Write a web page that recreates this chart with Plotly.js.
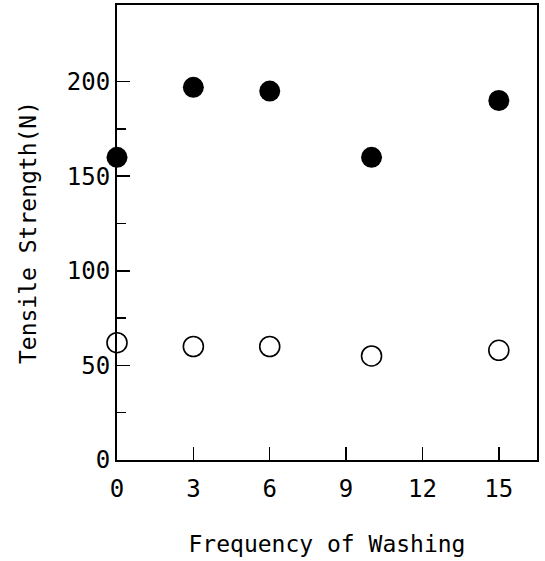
<!DOCTYPE html>
<html>
<head>
<meta charset="utf-8">
<script src="https://cdn.plot.ly/plotly-3.0.1.min.js"></script>
<style>html,body{margin:0;padding:0;background:#fff;}</style>
</head>
<body>
<div id="chart" style="width:545px;height:561px;"></div>
<script>
const washFreq = [0, 3, 6, 10, 15];
const filledStrength = [160, 197, 195, 160, 190];
const openStrength = [62, 60, 60, 55, 58];
const xTickVals = [0, 3, 6, 9, 12, 15];
const yTickVals = [0, 50, 100, 150, 200];
const yMinorVals = [25, 75, 125, 175];

const fam = '"DejaVu Sans Mono", "Liberation Mono", monospace';
const tickFont = {family: fam, size: 24, color: '#000'};
const titleFont = {family: fam, size: 23, color: '#000'};

const traces = [
  {
    x: washFreq, y: filledStrength, type: 'scatter', mode: 'markers', cliponaxis: false,
    marker: {symbol: 'circle', size: 21, color: '#000', line: {width: 0}}
  },
  {
    x: washFreq, y: openStrength, type: 'scatter', mode: 'markers', cliponaxis: false,
    marker: {symbol: 'circle-open', size: 20, color: '#000', line: {width: 1.6, color: '#000'}}
  }
];

const layout = {
  width: 545, height: 561,
  margin: {l: 117, r: 8, t: 5, b: 101},
  paper_bgcolor: '#fff', plot_bgcolor: '#fff',
  showlegend: false,
  font: titleFont,
  xaxis: {
    range: [0, 16.5], showgrid: false, zeroline: false,
    showline: true, mirror: true, linecolor: '#000', linewidth: 2,
    tickmode: 'array', tickvals: xTickVals, ticktext: xTickVals.map(String),
    ticks: 'inside', ticklen: 13, tickwidth: 1.5, tickcolor: '#000',
    ticklabelstandoff: 6,
    tickfont: tickFont,
    title: {text: 'Frequency of Washing', font: titleFont, standoff: 34}
  },
  yaxis: {
    range: [0, 240.5], showgrid: false, zeroline: false,
    showline: true, mirror: true, linecolor: '#000', linewidth: 2,
    tickmode: 'array', tickvals: yTickVals, ticktext: yTickVals.map(String),
    ticks: 'inside', ticklen: 13, tickwidth: 1.5, tickcolor: '#000',
    tickfont: tickFont,
    minor: {tickmode: 'array', tickvals: yMinorVals, ticks: 'inside', ticklen: 9, tickwidth: 1.5, tickcolor: '#000', showgrid: false},
    title: {text: 'Tensile Strength(N)', font: titleFont, standoff: 24}
  }
};

Plotly.newPlot('chart', traces, layout, {staticPlot: true, displayModeBar: false});
</script>
</body>
</html>
